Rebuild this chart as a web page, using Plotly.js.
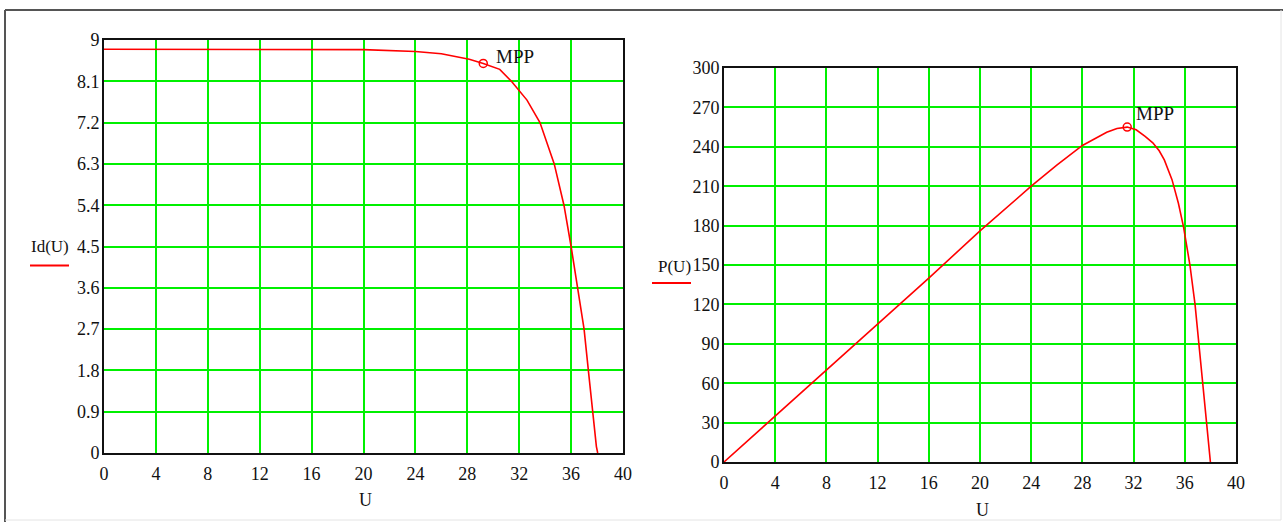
<!DOCTYPE html>
<html>
<head>
<meta charset="utf-8">
<script src="https://cdn.plot.ly/plotly-3.0.1.min.js"></script>
<style>
html,body{margin:0;padding:0;background:#fff;}
#chart{width:1288px;height:527px;}
</style>
</head>
<body>
<div id="chart"></div>
<script>
// ---- data ----
const uCurrent = [0, 4, 8, 12, 16, 20, 24, 26, 28.15, 29.23, 30.5, 31.4, 32.6, 33.6, 34.7, 35.45, 36.0, 36.5, 37.0, 37.33, 37.64, 37.95, 38.05];
const idValues = [8.80, 8.80, 8.80, 8.80, 8.80, 8.79, 8.75, 8.70, 8.58, 8.49, 8.36, 8.10, 7.69, 7.20, 6.30, 5.40, 4.50, 3.60, 2.70, 1.80, 0.90, 0.14, 0];
const mppCurrent = {u: [29.23], i: [8.49]};

const uPower = [0, 4, 8, 12, 16, 20, 24, 26, 28, 29.9, 30.7, 31.5, 32.2, 32.9, 33.5, 34.0, 34.4, 35.0, 35.5, 35.9, 36.4, 36.8, 37.1, 37.4, 37.7, 38.0];
const pValues = [0, 35, 70, 105, 140, 176, 210, 226, 241, 251, 254, 255, 253, 248, 243, 237, 230, 215, 197, 179, 150, 120, 90, 62, 30, 0];
const mppPower = {u: [31.5], p: [255]};

const xTicks = [0, 4, 8, 12, 16, 20, 24, 28, 32, 36, 40];
const idTicks = [0, 0.9, 1.8, 2.7, 3.6, 4.5, 5.4, 6.3, 7.2, 8.1, 9];
const idTickText = ['0', '0.9', '1.8', '2.7', '3.6', '4.5', '5.4', '6.3', '7.2', '8.1', '9'];
const pTicks = [0, 30, 60, 90, 120, 150, 180, 210, 240, 270, 300];

// ---- layout helpers (pixel -> paper) ----
const W = 1288, H = 527;
const px = x => x / W;
const py = y => 1 - y / H;

const fam = 'Liberation Serif, Times New Roman, serif';
const tickFont = {family: fam, size: 18, color: '#111'};
const labelFont = {family: fam, size: 17, color: '#111'};
const mppFont = {family: fam, size: 19, color: '#111'};

function xAxis(domain, anchor) {
  return {
    domain: domain, anchor: anchor, range: [0, 40],
    tickvals: xTicks, ticktext: xTicks.map(String),
    showgrid: true, gridcolor: '#00f000', gridwidth: 2,
    zeroline: false, showline: true, linecolor: '#111', linewidth: 2, mirror: true,
    ticks: 'outside', ticklen: 3, tickcolor: 'rgba(0,0,0,0)',
    tickfont: tickFont, fixedrange: true
  };
}
function yAxis(domain, anchor, range, vals, text) {
  return {
    domain: domain, anchor: anchor, range: range,
    tickvals: vals, ticktext: text,
    showgrid: true, gridcolor: '#00f000', gridwidth: 2,
    zeroline: false, showline: true, linecolor: '#111', linewidth: 2, mirror: true,
    ticks: '', ticklabelstandoff: -1, tickfont: tickFont, fixedrange: true
  };
}

const traces = [
  {x: uCurrent, y: idValues, xaxis: 'x', yaxis: 'y', mode: 'lines',
   line: {color: '#ff0000', width: 1.6}, hoverinfo: 'skip'},
  {x: mppCurrent.u, y: mppCurrent.i, xaxis: 'x', yaxis: 'y', mode: 'markers',
   marker: {symbol: 'circle-open', size: 8, color: '#ff0000', line: {width: 1.5}}, hoverinfo: 'skip'},
  {x: uPower, y: pValues, xaxis: 'x2', yaxis: 'y2', mode: 'lines',
   line: {color: '#ff0000', width: 1.6}, hoverinfo: 'skip'},
  {x: mppPower.u, y: mppPower.p, xaxis: 'x2', yaxis: 'y2', mode: 'markers',
   marker: {symbol: 'circle-open', size: 8, color: '#ff0000', line: {width: 1.5}}, hoverinfo: 'skip'}
];

const layout = {
  width: W, height: H,
  margin: {l: 0, r: 0, t: 0, b: 0, pad: 0},
  paper_bgcolor: '#fff', plot_bgcolor: '#fff',
  showlegend: false,
  xaxis: xAxis([px(104), px(623)], 'y'),
  yaxis: yAxis([py(453), py(40)], 'x', [0, 9], idTicks, idTickText),
  xaxis2: xAxis([px(724), px(1236)], 'y2'),
  yaxis2: yAxis([py(462), py(68)], 'x2', [0, 300], pTicks, pTicks.map(String)),
  annotations: [
    {xref: 'x', yref: 'y', x: mppCurrent.u[0], y: mppCurrent.i[0], text: 'MPP', showarrow: false,
     xanchor: 'left', yanchor: 'middle', xshift: 11, yshift: 7, font: mppFont},
    {xref: 'x2', yref: 'y2', x: mppPower.u[0], y: mppPower.p[0], text: 'MPP', showarrow: false,
     xanchor: 'left', yanchor: 'middle', xshift: 7, yshift: 14, font: mppFont},
    {xref: 'paper', yref: 'paper', x: px(365), y: py(500), text: 'U', showarrow: false,
     xanchor: 'center', yanchor: 'middle', font: tickFont},
    {xref: 'paper', yref: 'paper', x: px(982), y: py(510), text: 'U', showarrow: false,
     xanchor: 'center', yanchor: 'middle', font: tickFont},
    {xref: 'paper', yref: 'paper', x: px(71), y: py(246), text: 'Id(U)', showarrow: false,
     xanchor: 'right', yanchor: 'middle', font: labelFont},
    {xref: 'paper', yref: 'paper', x: px(693), y: py(266), text: 'P(U)', showarrow: false,
     xanchor: 'right', yanchor: 'middle', font: labelFont}
  ],
  shapes: [
    {type: 'line', xref: 'paper', yref: 'paper', x0: px(30), x1: px(69), y0: py(265.5), y1: py(265.5),
     line: {color: '#ff0000', width: 2}},
    {type: 'line', xref: 'paper', yref: 'paper', x0: px(652), x1: px(691), y0: py(283), y1: py(283),
     line: {color: '#ff0000', width: 2}},
    {type: 'line', xref: 'paper', yref: 'paper', x0: px(5), x1: px(1283), y0: py(10), y1: py(10),
     line: {color: '#555', width: 2}},
    {type: 'line', xref: 'paper', yref: 'paper', x0: px(5), x1: px(5), y0: py(10), y1: py(522),
     line: {color: '#555', width: 2}},
    {type: 'line', xref: 'paper', yref: 'paper', x0: px(1281), x1: px(1281), y0: py(10), y1: py(520),
     line: {color: '#e4e4e4', width: 1}},
    {type: 'line', xref: 'paper', yref: 'paper', x0: px(5), x1: px(1281), y0: py(520), y1: py(520),
     line: {color: '#e4e4e4', width: 1}}
  ]
};

Plotly.newPlot('chart', traces, layout, {staticPlot: true, displayModeBar: false});
</script>
</body>
</html>
